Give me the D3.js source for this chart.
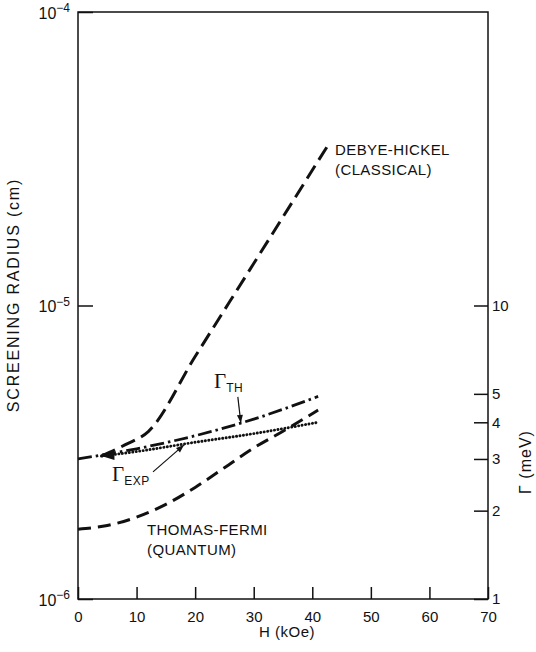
<!DOCTYPE html>
<html>
<head>
<meta charset="utf-8">
<script src="https://cdn.jsdelivr.net/npm/d3@7"></script>
<style>
  body { margin: 0; background: #fff; }
  svg text { font-family: "Liberation Sans", Arial, sans-serif; fill: #111; }
  .axis line { stroke: #111; stroke-width: 1.5; }
  .axis path { display: none; }
</style>
</head>
<body>
<svg id="chart" width="536" height="652"></svg>
<script>
// ticks
const xTicks = [0, 10, 20, 30, 40, 50, 60, 70];
const leftTicks = [1e-6, 1e-5, 1e-4];
const rightTicks = [1, 2, 3, 4, 5, 10];

// Debye-Hickel (classical), screening radius in cm
const dhH = [4, 8, 12, 20, 30, 42.5];
const dhR = [3.07e-6, 3.35e-6, 3.72e-6, 6.7e-6, 1.39e-5, 3.47e-5];

// Thomas-Fermi (quantum), screening radius in cm
const tfH = [0, 5, 10, 15, 20, 25, 30, 35, 41];
const tfR = [1.73e-6, 1.78e-6, 1.9e-6, 2.1e-6, 2.4e-6, 2.8e-6, 3.27e-6, 3.73e-6, 4.4e-6];

// Gamma theory / experiment, meV (right axis)
const thH = [0, 10, 20, 30, 41];
const thG = [3.0, 3.25, 3.6, 4.1, 4.9];
const expH = [4, 10, 20, 30, 41];
const expG = [3.07, 3.18, 3.42, 3.66, 4.0];

const svg = d3.select("#chart");
const pLeft = 78, pRight = 488, pTop = 12, pBottom = 599;

const x = d3.scaleLinear().domain([0, 70]).range([pLeft, pRight]);
const yL = d3.scaleLog().domain([1e-6, 1e-4]).range([pBottom, pTop]);
const yR = d3.scaleLog().domain([1, 100]).range([pBottom, pTop]);

// frame
svg.append("rect")
    .attr("x", pLeft).attr("y", pTop)
    .attr("width", pRight - pLeft).attr("height", pBottom - pTop)
    .attr("fill", "none").attr("stroke", "#111").attr("stroke-width", 1.5);

// bottom axis
svg.append("g").attr("class", "axis")
    .attr("transform", "translate(0," + pBottom + ")")
    .call(d3.axisBottom(x).tickValues(xTicks).tickSize(-12).tickSizeOuter(0).tickPadding(12).tickFormat(d3.format("d")))
    .selectAll("text").style("font-size", "15px");

// left axis, labels 10^n
let gl = svg.append("g").attr("class", "axis")
    .attr("transform", "translate(" + pLeft + ",0)")
    .call(d3.axisLeft(yL).tickValues(leftTicks).tickSize(-15).tickSizeOuter(0).tickPadding(8).tickFormat(""));
gl.selectAll(".tick text").each(function (d) {
    let t = d3.select(this).style("font-size", "16px").attr("dy", "0.4em");
    t.append("tspan").text("10");
    t.append("tspan").attr("dy", "-0.55em").style("font-size", "12px")
        .text("\u2212" + Math.round(-Math.log10(d)));
});

// right axis (Gamma, meV)
svg.append("g").attr("class", "axis")
    .attr("transform", "translate(" + pRight + ",0)")
    .call(d3.axisRight(yR).tickValues(rightTicks).tickSize(-14).tickSizeOuter(0).tickPadding(4).tickFormat(d3.format("d")))
    .selectAll("text").style("font-size", "15px");

// axis titles
svg.append("text")
    .attr("transform", "translate(19,295) rotate(-90)")
    .attr("text-anchor", "middle").style("font-size", "16px").style("letter-spacing", "1.8px")
    .text("SCREENING RADIUS (cm)");

svg.append("text")
    .attr("transform", "translate(531,462) rotate(-90)")
    .attr("text-anchor", "middle").style("font-size", "16px").style("letter-spacing", "1px")
    .text("\u0393 (meV)");

svg.append("text")
    .attr("x", 287).attr("y", 637)
    .attr("text-anchor", "middle").style("font-size", "15px").style("letter-spacing", "0.5px")
    .text("H (kOe)");

// curves
function drawCurve(hs, vs, yScale, dash, width, cap) {
    let line = d3.line()
        .x(function (d, i) { return x(hs[i]); })
        .y(function (d, i) { return yScale(vs[i]); })
        .curve(d3.curveMonotoneX);
    svg.append("path")
        .attr("d", line(hs))
        .attr("fill", "none")
        .attr("stroke", "#111")
        .attr("stroke-width", width)
        .attr("stroke-linecap", cap)
        .attr("stroke-dasharray", dash);
}

drawCurve(dhH, dhR, yL, "15 7", 3, "butt");
drawCurve(tfH, tfR, yL, "13 7", 3, "butt");
drawCurve(thH, thG, yR, "14 4 2.5 4", 2.8, "butt");
drawCurve(expH, expG, yR, "0.1 3.4", 2.9, "round");

// arrowhead at the start of the Gamma_EXP line
let ax = x(expH[0]), ay = yR(expG[0]);
svg.append("path")
    .attr("d", "M" + ax + "," + ay + "L" + (ax + 13) + "," + (ay - 4) + "L" + (ax + 13) + "," + (ay + 4) + "Z")
    .attr("fill", "#111");

// annotation arrows
function pointer(h, g, dx, dy) {
    let tx = x(h), ty = yR(g);
    let sx = tx + dx, sy = ty + dy;
    svg.append("line")
        .attr("x1", sx).attr("y1", sy).attr("x2", tx).attr("y2", ty)
        .attr("stroke", "#111").attr("stroke-width", 1.2);
    let ang = Math.atan2(ty - sy, tx - sx);
    let l = 8, w = 3;
    let bx = tx - l * Math.cos(ang), by = ty - l * Math.sin(ang);
    svg.append("path")
        .attr("d", "M" + tx + "," + ty +
            "L" + (bx - w * Math.sin(ang)) + "," + (by + w * Math.cos(ang)) +
            "L" + (bx + w * Math.sin(ang)) + "," + (by - w * Math.cos(ang)) + "Z")
        .attr("fill", "#111");
}
pointer(27.8, 3.98, -3, -26);
pointer(18.1, 3.35, -31, 27);

// labels
function gammaLabel(px, py, sub) {
    let t = svg.append("text").attr("x", px).attr("y", py);
    t.append("tspan").style("font-family", "Liberation Serif, serif").style("font-size", "21px").text("\u0393");
    t.append("tspan").attr("dy", 4).style("font-size", "12px").style("letter-spacing", "0.5px").text(sub);
}
gammaLabel(214, 388, "TH");
gammaLabel(112, 481, "EXP");

function twoLine(px, py, a, b) {
    let t = svg.append("text").attr("x", px).attr("y", py)
        .style("font-size", "15px").style("letter-spacing", "0.4px");
    t.append("tspan").attr("x", px).text(a);
    t.append("tspan").attr("x", px).attr("dy", 20).text(b);
}
twoLine(335, 155, "DEBYE-HICKEL", "(CLASSICAL)");
twoLine(147, 535, "THOMAS-FERMI", "(QUANTUM)");
</script>
</body>
</html>
